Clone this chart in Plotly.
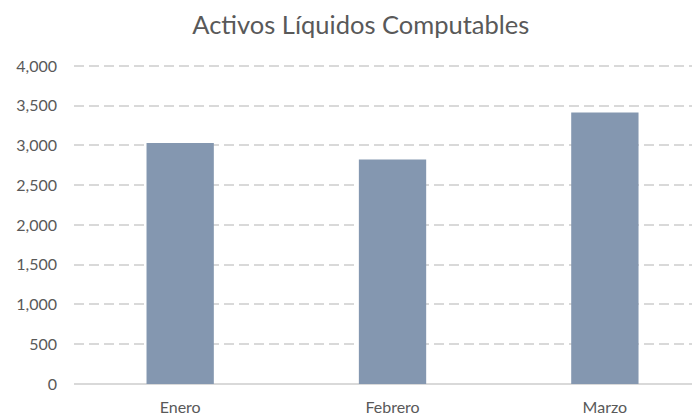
import plotly.graph_objects as go

categories = ["Enero", "Febrero", "Marzo"]
values = [3030, 2825, 3415]
y_ticks = [0, 500, 1000, 1500, 2000, 2500, 3000, 3500, 4000]
y_tick_labels = ["0", "500", "1,000", "1,500", "2,000", "2,500", "3,000", "3,500", "4,000"]

fig = go.Figure(
    go.Bar(
        x=list(range(len(categories))),
        y=values,
        width=0.317,
        marker=dict(color="#8497B0", line=dict(width=0)),
        hoverinfo="skip",
    )
)

font_family = "Lato, 'Open Sans', sans-serif"

fig.update_layout(
    width=700,
    height=416,
    margin=dict(l=62, r=8, t=54, b=38, pad=0),
    paper_bgcolor="white",
    plot_bgcolor="white",
    showlegend=False,
    title=dict(
        text="Activos Líquidos Computables",
        x=0.504, xanchor="center",
        y=0.959, yanchor="middle",
        font=dict(family=font_family, size=25.5, color="#595959"),
    ),
    xaxis=dict(
        tickmode="array",
        tickvals=list(range(len(categories))),
        ticktext=categories,
        range=[-0.5, 2.448],
        showgrid=False,
        zeroline=False,
        showline=False,
        ticks="",
        tickfont=dict(family=font_family, size=16, color="#595959"),
        ticklabelstandoff=12,
    ),
    yaxis=dict(
        range=[0, 4050],
        tickmode="array",
        tickvals=y_ticks,
        ticktext=y_tick_labels,
        showgrid=True,
        gridcolor="#D9D9D9",
        gridwidth=1.5,
        griddash="10px,5px",
        zeroline=True,
        zerolinecolor="#D9D9D9",
        zerolinewidth=1.5,
        showline=False,
        ticks="",
        tickfont=dict(family=font_family, size=16, color="#595959"),
        ticklabelstandoff=16,
    ),
)

fig.write_html("out.html")
